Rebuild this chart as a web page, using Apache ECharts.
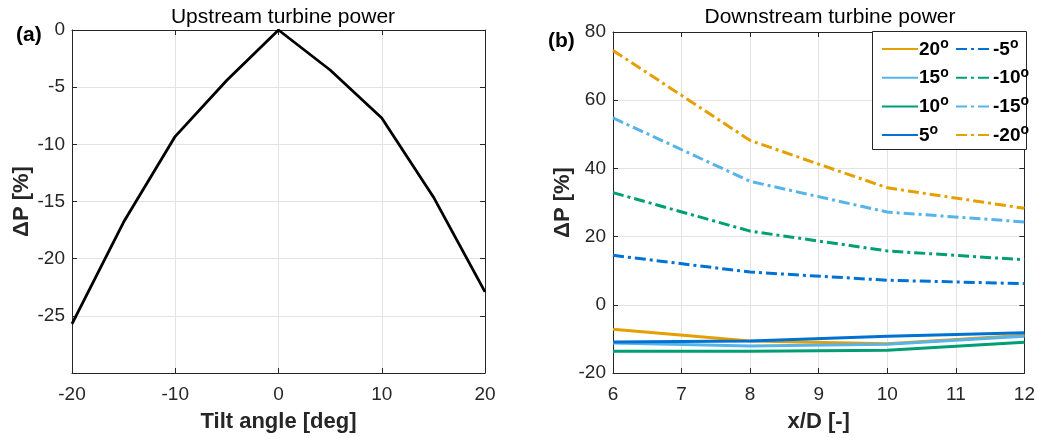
<!DOCTYPE html>
<html>
<head>
<meta charset="utf-8">
<script src="https://cdn.jsdelivr.net/npm/echarts@6/dist/echarts.min.js"></script>
<style>
html,body{margin:0;padding:0;background:#fff;}
#main{width:1038px;height:438px;}
</style>
</head>
<body>
<div id="main"></div>
<script>
// ---- Data ----
const tiltAngles = [-20, -15, -10, -5, 0, 5, 10, 15, 20];
const upstreamPower = [-25.7, -16.8, -9.3, -4.4, 0, -3.5, -7.7, -14.6, -22.9];

const xD = [6, 8, 10, 12];
const pos20 = [-7.2, -10.6, -11.4, -8.9];
const pos15 = [-11.2, -12.1, -11.6, -9.2];
const pos10 = [-13.6, -13.6, -13.3, -11.0];
const pos5 = [-10.9, -10.6, -9.2, -8.2];
const neg5 = [14.5, 9.6, 7.2, 6.2];
const neg10 = [32.9, 21.6, 15.8, 13.2];
const neg15 = [54.8, 36.2, 27.2, 24.3];
const neg20 = [74.6, 48.2, 34.3, 28.3];

const leftNames = ['20°', '15°', '10°', '5°'];
const rightNames = ['-5°', '-10°', '-15°', '-20°'];

const C_ORANGE = '#E69F00', C_SKY = '#56B4E9', C_GREEN = '#009E73', C_BLUE = '#0072D4';
const AX = '#262626', GRID = '#E3E3E3';
const FONT = 'Liberation Sans, Arial, sans-serif';
const DASHDOT = [11, 4, 3, 4];

function pairs(xs, ys) { return xs.map((x, i) => [x, ys[i]]); }

function mainX(gi, min, max, interval, name) {
  return {
    type: 'value', gridIndex: gi, min, max, interval, position: 'bottom',
    name, nameLocation: 'middle', nameGap: 38,
    nameTextStyle: { fontFamily: FONT, fontSize: 22, fontWeight: 'bold', color: AX },
    axisLine: { show: true, onZero: false, lineStyle: { color: AX, width: 1 } },
    axisTick: { show: true, inside: true, length: 5, lineStyle: { color: AX } },
    axisLabel: { fontFamily: FONT, fontSize: 19, color: AX, margin: 12 },
    splitLine: { show: true, lineStyle: { color: GRID, width: 1 } }
  };
}
function boxX(gi, min, max, interval) {
  return {
    type: 'value', gridIndex: gi, min, max, interval, position: 'top',
    axisLine: { show: true, onZero: false, lineStyle: { color: AX, width: 1 } },
    axisTick: { show: true, inside: true, length: 5, lineStyle: { color: AX } },
    axisLabel: { show: false }, splitLine: { show: false }
  };
}
function mainY(gi, min, max, interval, hideMin) {
  return {
    type: 'value', gridIndex: gi, min, max, interval, position: 'left',
    name: 'ΔP [%]', nameLocation: 'middle', nameGap: 39,
    nameTextStyle: { fontFamily: FONT, fontSize: 22, fontWeight: 'bold', color: AX },
    axisLine: { show: true, onZero: false, lineStyle: { color: AX, width: 1 } },
    axisTick: { show: true, inside: true, length: 5, lineStyle: { color: AX } },
    axisLabel: { fontFamily: FONT, fontSize: 19, color: AX, margin: 7,
      formatter: v => (hideMin && v === min) ? '' : String(v) },
    splitLine: { show: true, lineStyle: { color: GRID, width: 1 } }
  };
}
function boxY(gi, min, max, interval) {
  return {
    type: 'value', gridIndex: gi, min, max, interval, position: 'right',
    axisLine: { show: true, onZero: false, lineStyle: { color: AX, width: 1 } },
    axisTick: { show: true, inside: true, length: 5, lineStyle: { color: AX } },
    axisLabel: { show: false }, splitLine: { show: false }
  };
}

function lineSeries(name, ys, color, dashed) {
  return {
    name, type: 'line', xAxisIndex: 2, yAxisIndex: 2, data: pairs(xD, ys),
    symbol: 'none', showSymbol: false, animation: false,
    lineStyle: { color, width: 3, type: dashed ? DASHDOT : 'solid' },
    itemStyle: { color }
  };
}

const legendRich = {
  t: { fontFamily: FONT, fontSize: 19, fontWeight: 'bold', color: '#000', lineHeight: 20, verticalAlign: 'bottom' },
  s: { fontFamily: FONT, fontSize: 14, fontWeight: 'bold', color: '#000', lineHeight: 20, verticalAlign: 'bottom', padding: [0, 0, 8, 0] }
};
function legendFmt(n) { return '{t|' + n.replace('°', '') + '}{s|o}'; }

function legendCfg(names, left) {
  return {
    data: names, orient: 'vertical', left, top: 32,
    itemWidth: 36, itemHeight: 10, itemGap: 6.7,
    formatter: legendFmt,
    itemStyle: { opacity: 0 },
    textStyle: { rich: legendRich, padding: [0, 0, 0, -4] },
    selectedMode: false, z: 6
  };
}

const chart = echarts.init(document.getElementById('main'), null, { renderer: 'canvas' });
chart.setOption({
  animation: false,
  backgroundColor: '#fff',
  title: [
    { text: 'Upstream turbine power', left: 278, top: 2, textAlign: 'center',
      textStyle: { fontFamily: FONT, fontSize: 21, fontWeight: 'normal', color: '#000' } },
    { text: 'Downstream turbine power', left: 825, top: 2, textAlign: 'center',
      textStyle: { fontFamily: FONT, fontSize: 21, fontWeight: 'normal', color: '#000' } },
    { text: '(a)', left: 11, top: 20,
      textStyle: { fontFamily: FONT, fontSize: 21, fontWeight: 'bold', color: '#000' } },
    { text: '(b)', left: 543, top: 26,
      textStyle: { fontFamily: FONT, fontSize: 21, fontWeight: 'bold', color: '#000' } }
  ],
  grid: [
    { left: 72, right: 553, top: 30, bottom: 65, containLabel: false },
    { left: 613, right: 12, top: 32, bottom: 65, containLabel: false }
  ],
  xAxis: [
    mainX(0, -20, 20, 10, 'Tilt angle [deg]'),
    boxX(0, -20, 20, 10),
    mainX(1, 6, 12, 1, 'x/D [-]'),
    boxX(1, 6, 12, 1)
  ],
  yAxis: [
    mainY(0, -30, 0, 5, true),
    boxY(0, -30, 0, 5),
    mainY(1, -20, 80, 20, false),
    boxY(1, -20, 80, 20)
  ],
  legend: [legendCfg(leftNames, 876), legendCfg(rightNames, 950)],
  graphic: [
    { type: 'rect', left: 872, top: 31, shape: { width: 154, height: 118 },
      style: { fill: '#fff', stroke: AX, lineWidth: 1 }, z: 5 }
  ],
  series: [
    { name: 'upstream', type: 'line', xAxisIndex: 0, yAxisIndex: 0,
      data: pairs(tiltAngles, upstreamPower), symbol: 'none', showSymbol: false,
      lineStyle: { color: '#000', width: 2.8 }, itemStyle: { color: '#000' } },
    lineSeries('20°', pos20, C_ORANGE, false),
    lineSeries('15°', pos15, C_SKY, false),
    lineSeries('10°', pos10, C_GREEN, false),
    lineSeries('5°', pos5, C_BLUE, false),
    lineSeries('-5°', neg5, C_BLUE, true),
    lineSeries('-10°', neg10, C_GREEN, true),
    lineSeries('-15°', neg15, C_SKY, true),
    lineSeries('-20°', neg20, C_ORANGE, true)
  ]
});
</script>
</body>
</html>
